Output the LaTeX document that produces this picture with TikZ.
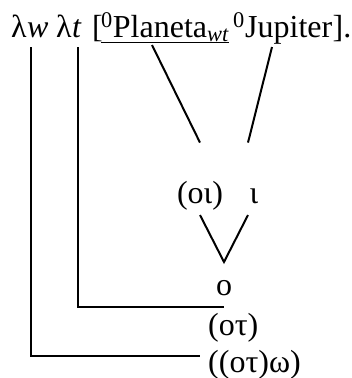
\documentclass[tikz,border=0pt]{standalone}
\usepackage{fontspec}
\setmainfont{Liberation Serif}
\usetikzlibrary{positioning,calc}

\begin{document}
\begin{tikzpicture}[
  x=1pt, y=1pt,
  font=\fontsize{32}{38}\selectfont,
  word/.style={inner sep=0pt, anchor=base west},
  type/.style={inner sep=0pt},
  link/.style={line width=2pt}
]
\useasboundingbox (0,0) rectangle (352,-378);
% the term
\node[word] (lam1) at (11,-37) {λ};
\node[word, base right=0pt of lam1] (w) {\textit{w}};
\node[word] (lam2) at (56,-37) {λ};
\node[word, base right=0pt of lam2] (t) {\textit{t}};
\node[word] (lbr) at (92,-37) {[};
\node[word] (planeta) at (101,-37) {\underline{\textsuperscript{0}Planeta\textsubscript{\itshape wt}}};
\node[word] (zero) at (233,-37) {\textsuperscript{0}};
\node[word] (jupiter) at (245,-37) {Jupiter};
\node[word, base right=0pt of jupiter] (rbr) {].};
% the types
\node[type, anchor=base] (oi) at (200,-203) {(οι)};
\node[type, anchor=base] (iota) at (254,-203) {ι};
\node[type, anchor=base] (omic) at (224,-295) {ο};
\node[type, anchor=base west] (ot) at (208,-335) {(οτ)};
\node[type, anchor=base west] (otw) at (208,-372) {((οτ)ω)};
\coordinate (meet) at (224,-262);

\draw[link] ([xshift=51pt,yshift=-8pt]planeta.base west) -- ($(oi.north)+(0,38)$);
\draw[link] ([xshift=27pt,yshift=-10pt]jupiter.base west) -- ($(iota |- oi.north)+(-6,38)$);
\draw[link] ([yshift=-5pt]oi.south) -- (meet) -- ($(iota |- oi.south)+(-6,-5)$);
\draw[link] ([xshift=6pt,yshift=-10pt]t.base west) |- ($(omic.south |- ot.north)+(0,6)$);
\draw[link] ([xshift=4pt,yshift=-10pt]w.base west) |- ([xshift=-8pt,yshift=8pt]otw.west);
\end{tikzpicture}
\end{document}
